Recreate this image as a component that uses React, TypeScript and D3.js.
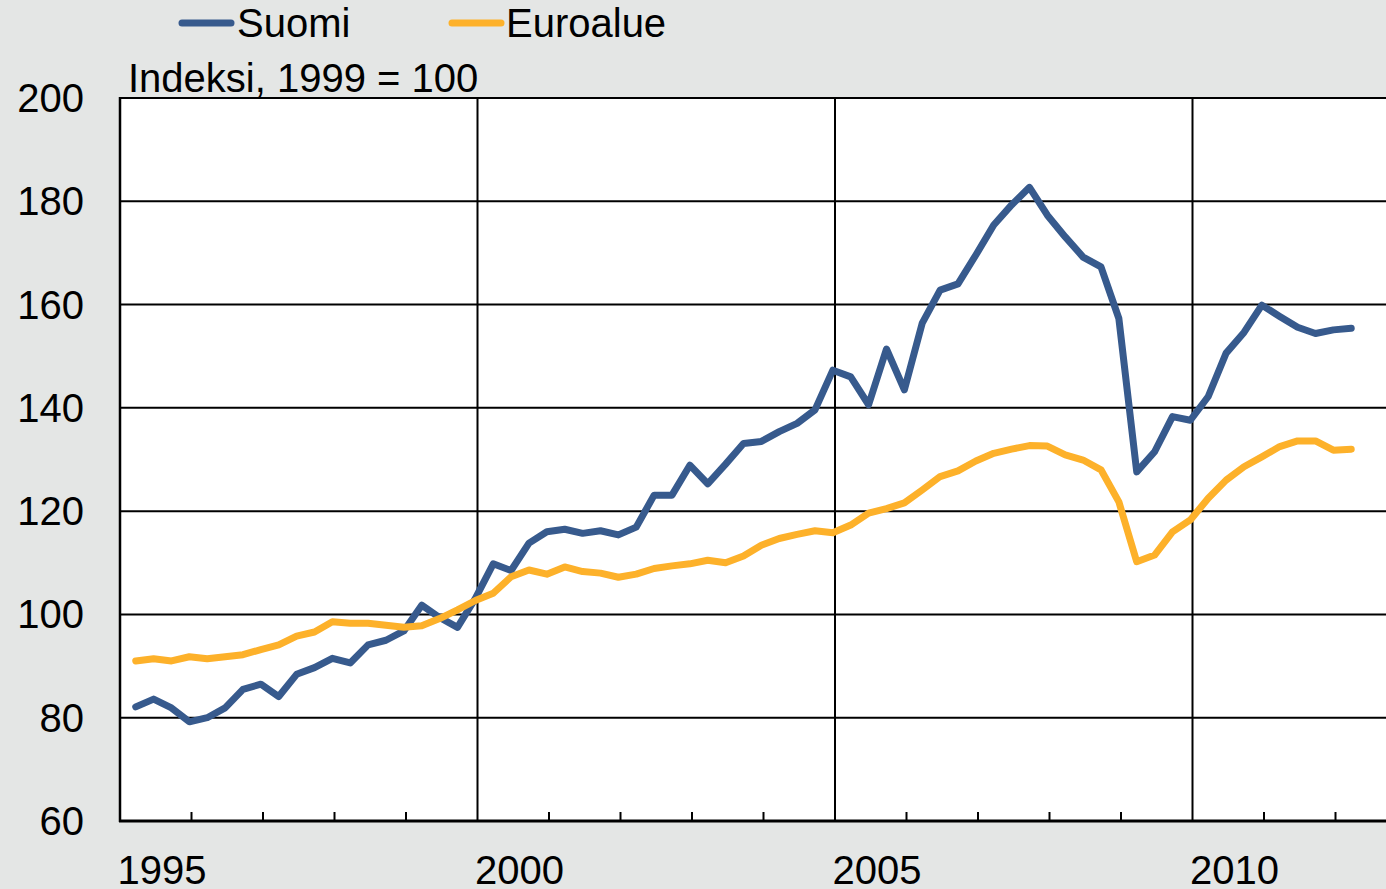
import React from "react";
import * as d3 from "d3";

const years: number[] = [];
for (let y = 1995; y <= 2012; y++) years.push(y);
const quarters: string[] = [];
for (let y = 1995; y <= 2012; y++) for (let q = 1; q <= 4; q++) if (quarters.length < 69) quarters.push(`${y}Q${q}`);

const suomi = [
  82.1, 83.6, 81.9, 79.2, 80.0, 81.9, 85.5, 86.5, 84.1, 88.4, 89.7, 91.5, 90.6, 94.1, 95.0, 96.8, 101.8, 99.4, 97.5, 103.1,
  109.8, 108.5, 113.8, 116.0, 116.5, 115.7, 116.2, 115.4, 116.9, 123.1, 123.1, 128.9, 125.3, 129.1, 133.1, 133.5,
  135.4, 137.0, 139.6, 147.3, 146.0, 140.6, 151.4, 143.5, 156.4, 162.8, 164.0, 169.6, 175.4, 179.3, 182.7, 177.3,
  173.1, 169.2, 167.3, 157.3, 127.6, 131.5, 138.3, 137.6, 142.2, 150.6, 154.6, 159.9, 157.7, 155.6, 154.4, 155.1, 155.4,
];
const euroalue = [
  91.0, 91.4, 91.0, 91.8, 91.4, 91.8, 92.2, 93.2, 94.1, 95.8, 96.6, 98.6, 98.3, 98.3, 97.9, 97.5, 97.8, 99.2, 100.9, 102.7,
  104.1, 107.3, 108.6, 107.8, 109.2, 108.3, 108.0, 107.2, 107.8, 108.9, 109.4, 109.8, 110.5, 110.0, 111.3, 113.4,
  114.7, 115.5, 116.2, 115.8, 117.3, 119.6, 120.5, 121.6, 124.1, 126.7, 127.8, 129.7, 131.2, 132.0, 132.7, 132.6,
  130.9, 129.9, 128.0, 121.8, 110.2, 111.5, 116.0, 118.3, 122.5, 126.0, 128.6, 130.5, 132.5, 133.6, 133.6, 131.8, 132.0,
];
const yTicks = [60, 80, 100, 120, 140, 160, 180, 200];
const xLabelYears = [1995, 2000, 2005, 2010];
const seriesNames = ["Suomi", "Euroalue"];
const unitLabel = "Indeksi, 1999 = 100";

const W = 1386, H = 889;
const FONT = "'Liberation Sans', Arial, sans-serif";
const FS = 40;
const BLUE = "#375a8d";
const ORANGE = "#fdb12a";

function qTime(label: string) {
  const y = +label.slice(0, 4);
  const q = +label.slice(5);
  return y + (q - 1) / 4 + 0.22;
}

export default function App() {
  const x = d3.scaleLinear().domain([1995, 2013]).range([120, 120 + 18 * 71.5]);
  const y = d3.scaleLinear().domain([60, 200]).range([821, 98]);
  const line = d3
    .line<number>()
    .x((_, i) => x(qTime(quarters[i])))
    .y((v) => y(v));

  const series = [
    { name: seriesNames[0], values: suomi, color: BLUE },
    { name: seriesNames[1], values: euroalue, color: ORANGE },
  ];

  return (
    <svg width={W} height={H} style={{ position: "absolute", left: 0, top: 0, display: "block" }} fontFamily={FONT}>
      <rect x={0} y={0} width={W} height={H} fill="#e4e6e5" />
      <rect x={x(1995)} y={y(200)} width={x(2013) - x(1995)} height={y(60) - y(200)} fill="#ffffff" />
      {yTicks.filter((t) => t > 60).map((t) => (
        <line key={t} x1={x(1995)} x2={x(2013)} y1={y(t)} y2={y(t)} stroke="#000" strokeWidth={2} />
      ))}
      {[2000, 2005, 2010].map((yr) => (
        <line key={yr} x1={x(yr)} x2={x(yr)} y1={y(200)} y2={y(60)} stroke="#000" strokeWidth={2} />
      ))}
      {years.filter((yr) => yr % 5 !== 0).map((yr) => (
        <line key={yr} x1={x(yr)} x2={x(yr)} y1={y(60)} y2={y(60) - 9} stroke="#000" strokeWidth={2} />
      ))}
      <line x1={x(1995)} x2={x(1995)} y1={y(200) - 1} y2={y(60) + 1} stroke="#000" strokeWidth={2.5} />
      <line x1={x(1995) - 1} x2={x(2013)} y1={y(60)} y2={y(60)} stroke="#000" strokeWidth={3} />

      {series.map((s) => (
        <path key={s.name} d={line(s.values) || ""} fill="none" stroke={s.color} strokeWidth={7}
          strokeLinejoin="round" strokeLinecap="round" />
      ))}

      {yTicks.map((t) => (
        <text key={t} x={84} y={y(t) + 14} textAnchor="end" fontSize={FS} fill="#000">{t}</text>
      ))}
      {xLabelYears.map((yr) => (
        <text key={yr} x={x(yr) + 42} y={884} textAnchor="middle" fontSize={FS} fill="#000">{yr}</text>
      ))}
      <text x={128} y={92} fontSize={FS} fill="#000">{unitLabel}</text>

      <line x1={182} x2={231} y1={23} y2={23} stroke={BLUE} strokeWidth={7} strokeLinecap="round" />
      <text x={237} y={37} fontSize={FS} fill="#000">{seriesNames[0]}</text>
      <line x1={452} x2={501} y1={23} y2={23} stroke={ORANGE} strokeWidth={7} strokeLinecap="round" />
      <text x={506} y={37} fontSize={FS} fill="#000">{seriesNames[1]}</text>
    </svg>
  );
}
